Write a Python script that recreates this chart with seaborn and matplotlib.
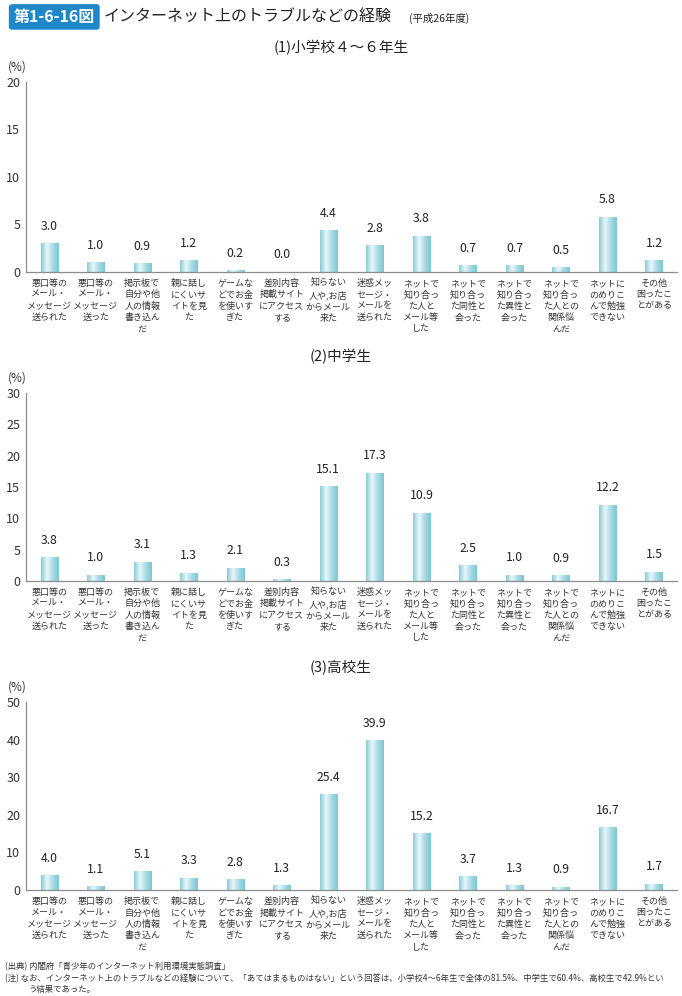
import numpy as np
import pandas as pd
import matplotlib
matplotlib.use("Agg")
import matplotlib.pyplot as plt
import seaborn as sns
from matplotlib.colors import LinearSegmentedColormap

# categories (multi-line labels as printed)
categories = [
    "悪口等の\nメール・\nメッセージ\n送られた",
    "悪口等の\nメール・\nメッセージ\n送った",
    "掲示板で\n自分や他\n人の情報\n書き込ん\nだ",
    "親に話し\nにくいサ\nイトを見\nた",
    "ゲームな\nどでお金\nを使いす\nぎた",
    "差別内容\n掲載サイト\nにアクセス\nする",
    "知らない\n人や,お店\nからメール\n来た",
    "迷惑メッ\nセージ・\nメールを\n送られた",
    "ネットで\n知り合っ\nた人と\nメール等\nした",
    "ネットで\n知り合っ\nた同性と\n会った",
    "ネットで\n知り合っ\nた異性と\n会った",
    "ネットで\n知り合っ\nた人との\n関係悩\nんだ",
    "ネットに\nのめりこ\nんで勉強\nできない",
    "その他\n困ったこ\nとがある",
]

elementary = [3.0, 1.0, 0.9, 1.2, 0.2, 0.0, 4.4, 2.8, 3.8, 0.7, 0.7, 0.5, 5.8, 1.2]
junior_high = [3.8, 1.0, 3.1, 1.3, 2.1, 0.3, 15.1, 17.3, 10.9, 2.5, 1.0, 0.9, 12.2, 1.5]
high_school = [4.0, 1.1, 5.1, 3.3, 2.8, 1.3, 25.4, 39.9, 15.2, 3.7, 1.3, 0.9, 16.7, 1.7]

panel_titles = ["(1)小学校４～６年生", "(2)中学生", "(3)高校生"]
y_max = [20, 30, 50]
y_step = [5, 5, 10]

sns.set_style("white")
plt.rcParams["font.family"] = ["Noto Sans CJK JP", "DejaVu Sans"]

fig = plt.figure(figsize=(6.82, 9.96), dpi=100)

# bar gradient: edge cyan, light center
grad_cmap = LinearSegmentedColormap.from_list(
    "bar", ["#86cdd9", "#e9f7fa", "#a6dbe4", "#7cc6d3"])
grad = np.linspace(0, 1, 64).reshape(1, -1)

axes_rects = [
    [0.038, 0.727, 0.955, 0.191],
    [0.038, 0.4167, 0.955, 0.1887],
    [0.038, 0.1064, 0.955, 0.1888],
]
title_y = [0.952, 0.642, 0.331]

grey = "#8c8c8c"
for i, vals in enumerate([elementary, junior_high, high_school]):
    ax = fig.add_axes(axes_rects[i])
    df = pd.DataFrame({"cat": categories, "val": vals})
    sns.barplot(data=df, x="cat", y="val", ax=ax, color="#8fd0dc",
                width=0.37, saturation=1, errorbar=None)
    for p in list(ax.patches):
        x0, y0 = p.get_x(), p.get_y()
        w, h = p.get_width(), p.get_height()
        p.set_facecolor("none")
        p.set_edgecolor("none")
        if h <= 0:
            continue
        im = ax.imshow(grad, cmap=grad_cmap, aspect="auto",
                       extent=[x0, x0 + w, y0, y0 + h], zorder=2)
        im.set_clip_path(p)
    for j, v in enumerate(vals):
        ax.text(j, v + y_max[i] * 0.055, f"{v:.1f}", ha="center", va="bottom",
                fontsize=8.8, color="#222222")
    ax.set_xlim(-0.5, len(categories) - 0.5)
    ax.set_ylim(0, y_max[i])
    ax.set_yticks(np.arange(0, y_max[i] + 1, y_step[i]))
    ax.set_xticks(np.arange(len(categories)))
    ax.set_xticklabels(categories, fontsize=6.5, linespacing=1.33, color="#333333")
    ax.set_xticks(np.arange(len(categories)) - 0.5, minor=True)
    ax.tick_params(axis="x", which="major", length=0, pad=5)
    ax.tick_params(axis="x", which="minor", direction="in", length=3,
                   color=grey, width=0.8)
    ax.tick_params(axis="y", direction="in", length=3, color=grey,
                   width=0.8, labelsize=9, pad=4, labelcolor="#333333")
    ax.set_xlabel("")
    ax.set_ylabel("")
    sns.despine(ax=ax)
    for s in ["left", "bottom"]:
        ax.spines[s].set_color(grey)
        ax.spines[s].set_linewidth(0.9)
    ax.text(-0.028, 1.045, "(%)", transform=ax.transAxes, fontsize=8.5,
            color="#333333", ha="left", va="bottom")
    fig.text(0.5, title_y[i], panel_titles[i], ha="center", va="center",
             fontsize=10.5, color="#222222")

# header
fig.text(0.02, 0.983, "第1-6-16図", ha="left", va="center", fontsize=11.5,
         color="white", fontweight="bold",
         bbox=dict(boxstyle="round,pad=0.3,rounding_size=0.2",
                   fc="#1f86c8", ec="none"))
fig.text(0.152, 0.983, "インターネット上のトラブルなどの経験", ha="left",
         va="center", fontsize=11.5, color="#222222")
fig.text(0.6, 0.982, "(平成26年度)", ha="left", va="center", fontsize=7.5,
         color="#222222")

# footnotes
fig.text(0.008, 0.029, "(出典) 内閣府「青少年のインターネット利用環境実態調査」",
         fontsize=6, color="#333333", ha="left", va="center")
fig.text(0.008, 0.018,
         "(注) なお、インターネット上のトラブルなどの経験について、「あてはまるものはない」という回答は、小学校4～6年生で全体の81.5%、中学生で60.4%、高校生で42.9%とい",
         fontsize=6, color="#333333", ha="left", va="center")
fig.text(0.042, 0.007, "う結果であった。", fontsize=6, color="#333333",
         ha="left", va="center")

fig.savefig("out.png", dpi=100, facecolor="white")
